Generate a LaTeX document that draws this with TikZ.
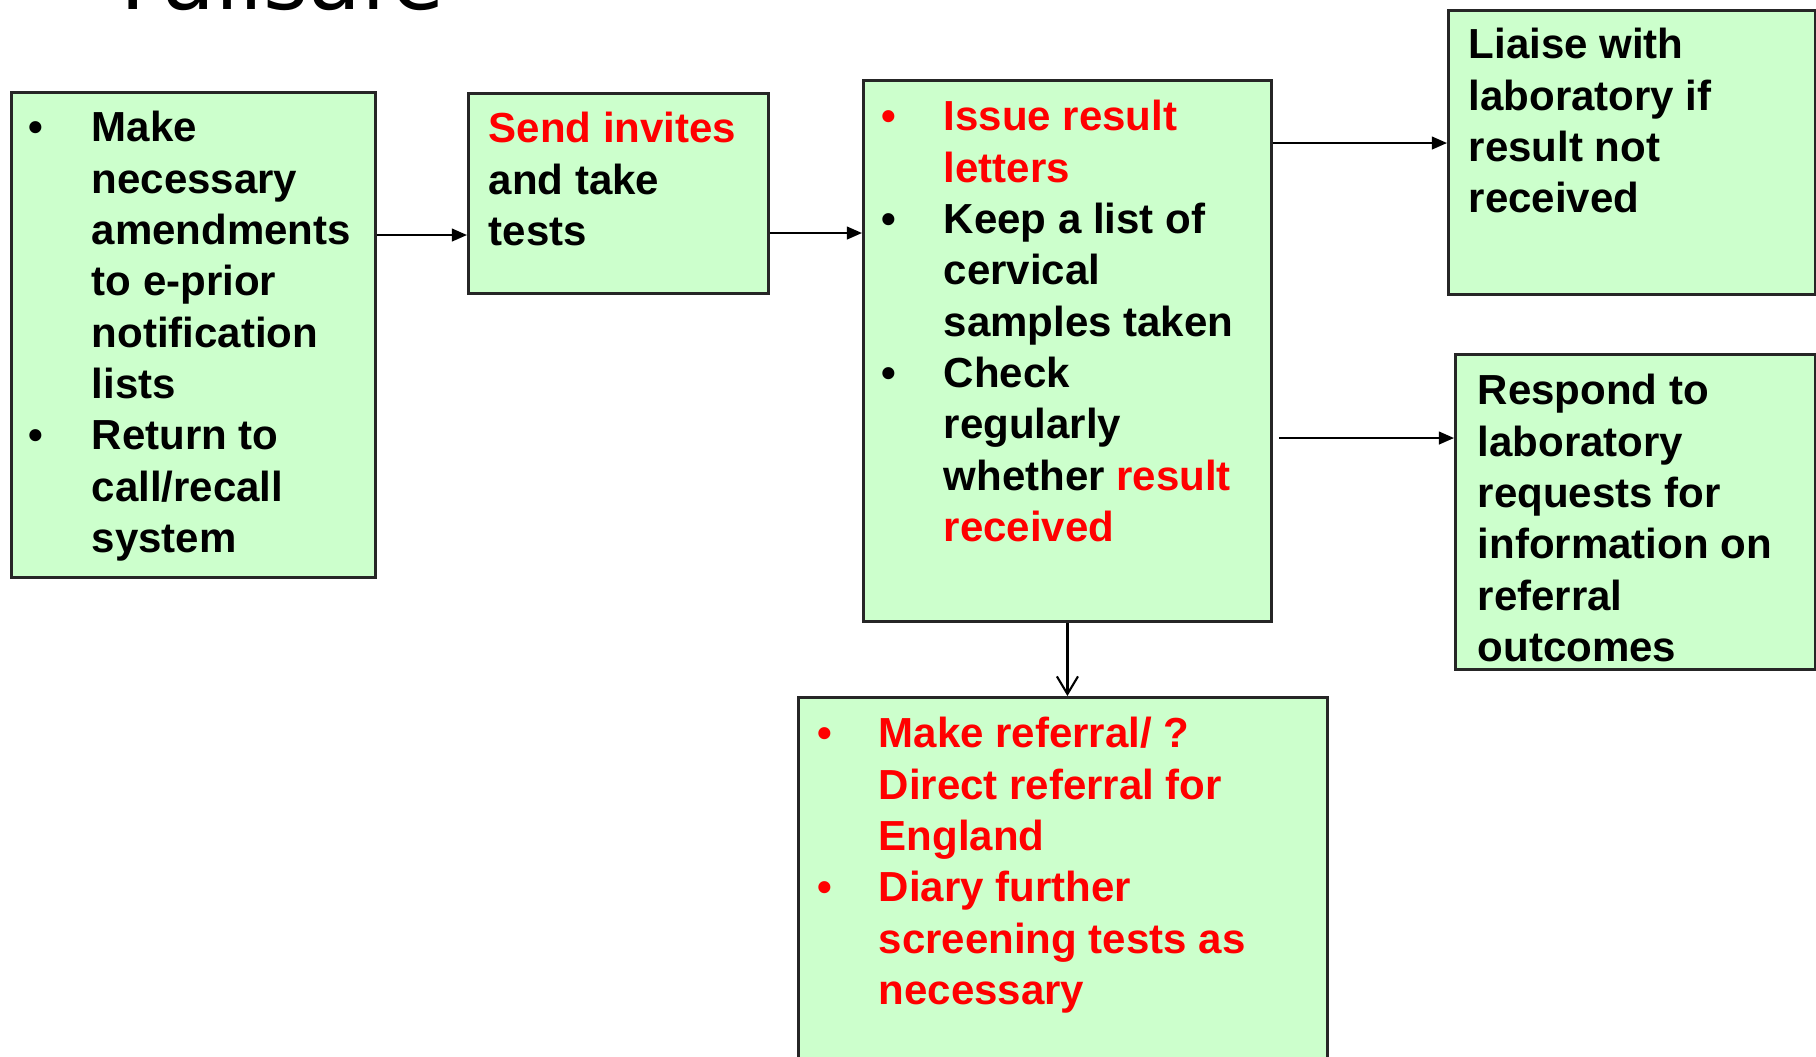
\documentclass[tikz,border=0pt]{standalone}
\usepackage{fontspec}
\setmainfont{Liberation Sans}
\newfontfamily\titlefont{DejaVu Sans}
\usetikzlibrary{arrows.meta}
\definecolor{boxgreen}{HTML}{CCFFCC}
\definecolor{txtred}{HTML}{FF0000}
\begin{document}
\begin{tikzpicture}[x=0.01cm,y=-0.01cm,
  box/.style={draw=black!85, line width=0.75pt, fill=boxgreen, inner sep=0pt, anchor=north west},
  txt/.style={inner sep=0pt, anchor=north west, align=left, font=\fontsize{11.95pt}{14.6pt}\selectfont\bfseries},
  bul/.style={inner sep=0pt, anchor=base west, font=\fontsize{11.95pt}{14.6pt}\selectfont\bfseries},
  arr/.style={line width=0.6pt, -{Triangle[length=4.3pt,width=3.6pt]}},
  openarr/.style={line width=0.6pt, -{Straight Barb[length=5pt,width=6pt]}}
]
\useasboundingbox (0,0) rectangle (1816,1056);
\clip (0,0) rectangle (1816,1056);

% title (cut off at top)
\node[anchor=base west, inner sep=0pt, font=\titlefont\fontsize{24.5pt}{29pt}\selectfont] (title) at (120,9) {Failsafe};

% boxes
\node[box, minimum width=3.64cm, minimum height=4.85cm] (b1) at (10,91) {};
\node[box, minimum width=3.00cm, minimum height=2.00cm] (b2) at (467,92) {};
\node[box, minimum width=4.08cm, minimum height=5.41cm] (b3) at (862,79) {};
\node[box, minimum width=3.67cm, minimum height=2.84cm] (b4) at (1447,9) {};
\node[box, minimum width=3.60cm, minimum height=3.15cm] (b5) at (1454,353) {};
\node[box, minimum width=5.29cm, minimum height=3.80cm] (b6) at (797,696) {};

% box 1 text
\node[bul] (b1u1) at (28,141) {•};
\node[bul] (b1u2) at (28,449) {•};
\node[txt] (t1) at (91,105) {\strut Make\\necessary\\amendments\\to e-prior\\notification\\lists\\Return to\\call/recall\\system};

% box 2 text
\node[txt] (t2) at (488,106) {\strut\textcolor{txtred}{Send invites}\\and take\\tests};

% box 3 text
\node[bul, text=txtred] (b3u1) at (881,130) {•};
\node[bul] (b3u2) at (881,233) {•};
\node[bul] (b3u3) at (881,387) {•};
\node[txt] (t3) at (943,94) {\strut\textcolor{txtred}{Issue result}\\\textcolor{txtred}{letters}\\Keep a list of\\cervical\\samples taken\\Check\\regularly\\whether \textcolor{txtred}{result}\\\textcolor{txtred}{received}};

% box 4 text
\node[txt] (t4) at (1468,22) {\strut Liaise with\\laboratory if\\result not\\received};

% box 5 text
\node[txt] (t5) at (1477,368) {\strut Respond to\\laboratory\\requests for\\information on\\referral\\outcomes};

% box 6 text
\node[bul, text=txtred] (b6u1) at (817,747) {•};
\node[bul, text=txtred] (b6u2) at (817,901) {•};
\node[txt, text=txtred] (t6) at (878,711) {\strut Make referral/ ?\\Direct referral for\\England\\Diary further\\screening tests as\\necessary};

% connectors
\coordinate (y1) at (0,235);
\coordinate (y2) at (0,233);
\coordinate (y3) at (0,143);
\coordinate (s4) at (1279,438);
\draw[arr] (b1.east |- y1) -- (b2.west |- y1);
\draw[arr] (b2.east |- y2) -- (b3.west |- y2);
\draw[arr] (b3.east |- y3) -- (b4.west |- y3);
\draw[arr] (s4) -- (b5.west |- s4);
\draw[openarr] (b3.south) -- (b3.south |- b6.north);
\end{tikzpicture}
\end{document}
